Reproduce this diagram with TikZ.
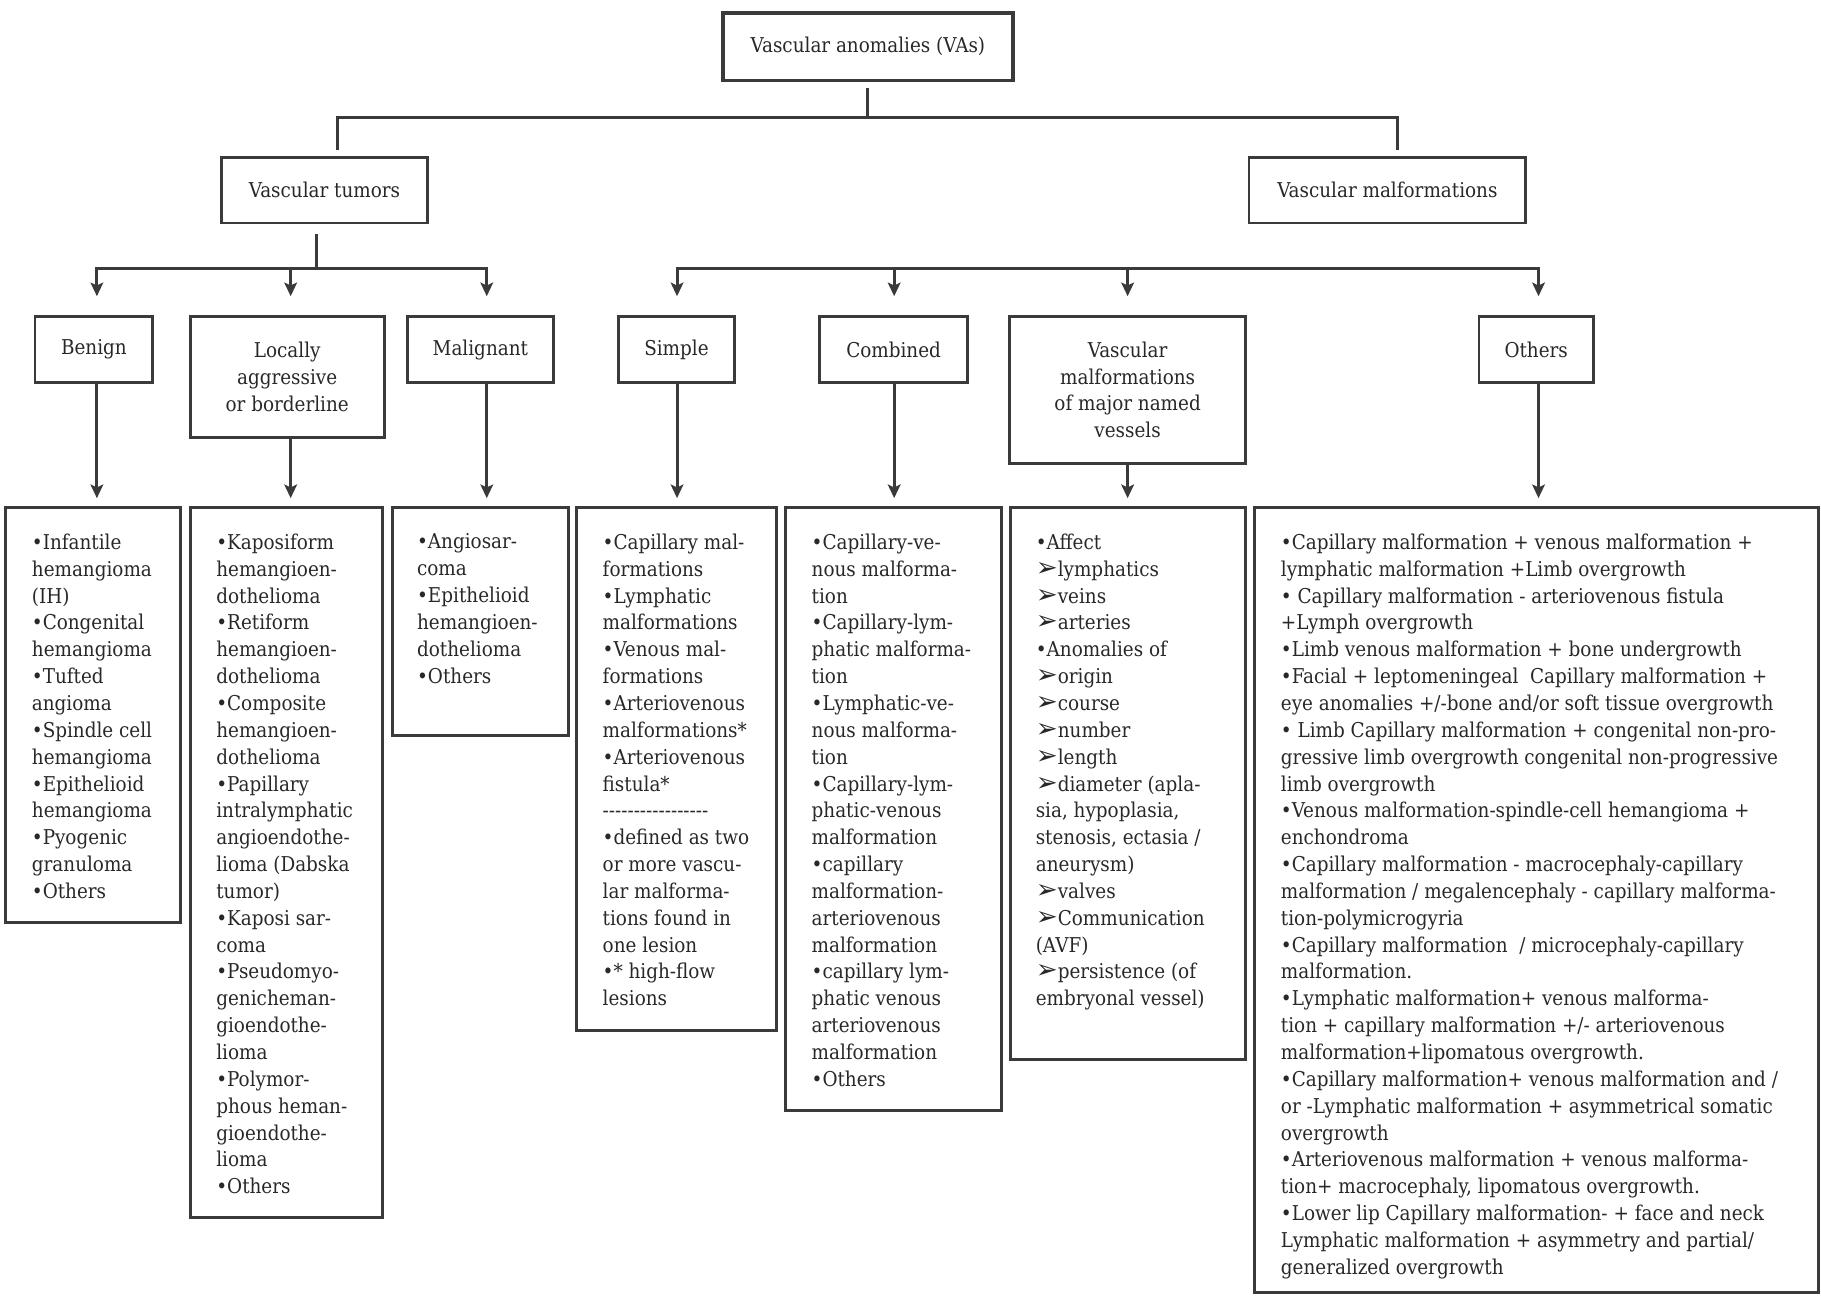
\documentclass[tikz,border=0pt]{standalone}
\usepackage{fontspec}
\setmainfont{DejaVu Serif Condensed}
\newfontfamily\arrfont{DejaVu Sans}
\usetikzlibrary{arrows.meta}
\definecolor{lc}{RGB}{58,58,58}
\definecolor{tc}{RGB}{40,40,40}
\newcommand{\ar}{{\arrfont\fontsize{13.5}{13.8}\selectfont ➢}}
\begin{document}
\begin{tikzpicture}[x=0.6pt,y=-0.6pt,
  every node/.style={text=tc,font=\fontsize{10.5}{13.8}\selectfont},
  sz/.style 2 args={minimum width={#1*0.6pt},minimum height={#2*0.6pt}},
  hbox/.style={draw=lc,line width=1.5pt,align=center,inner sep=0pt},
  lbox/.style={draw=lc,line width=1.5pt,inner sep=0pt},
  ltext/.style={anchor=north west,align=left,inner sep=0pt},
  conn/.style={draw=lc,line width=1.5pt},
  arr/.style={conn,-{Stealth[length=7pt,width=6.5pt,inset=1.5pt]}},
  toL2/.style={arr,shorten >=9.6pt},
  toL3/.style={arr,shorten >=4.2pt}]
\useasboundingbox[fill=white] (0,0) rectangle (1560,1111);

% level 0 and 1
\node[hbox,line width=2pt,sz={249}{58}] (va) at (743.5,40) {Vascular anomalies (VAs)};
\node[hbox,sz={176}{56}] (vt) at (278,163) {Vascular tumors};
\node[hbox,sz={237}{56}] (vm) at (1188.5,163) {Vascular malformations};

% level 2
\node[hbox,sz={101}{57}] (ben) at (80.5,299.5) {Benign};
\node[hbox,sz={166}{104}] (loc) at (246,323) {Locally\\aggressive\\or borderline};
\node[hbox,sz={125}{57}] (mal) at (411.5,299.5) {Malignant};
\node[hbox,sz={99}{57}] (sim) at (579.5,299.5) {Simple};
\node[hbox,sz={127}{57}] (com) at (765.5,299.5) {Combined};
\node[hbox,sz={202}{126}] (vmnv) at (966,334) {Vascular\\malformations\\of major named\\vessels};
\node[hbox,sz={98}{57}] (oth) at (1316,299.5) {Others};

% list boxes
\node[lbox,sz={150}{355}] (benL) at (80,612.5) {};
\node[lbox,sz={165}{608}] (locL) at (245.5,739) {};
\node[lbox,sz={151}{195}] (malL) at (411.5,532.5) {};
\node[lbox,sz={171}{448}] (simL) at (579.5,659) {};
\node[lbox,sz={185}{516}] (comL) at (765.5,693) {};
\node[lbox,sz={201}{473}] (vmnvL) at (966.5,671.5) {};
\node[lbox,sz={483}{672}] (othL) at (1316.5,771) {};

% list texts
\node[ltext] (benT) at (27,457) {•Infantile\\hemangioma\\(IH)\\•Congenital\\hemangioma\\•Tufted\\angioma\\•Spindle cell\\hemangioma\\•Epithelioid\\hemangioma\\•Pyogenic\\granuloma\\•Others};
\node[ltext] (locT) at (185,457) {•Kaposiform\\hemangioen-\\dothelioma\\•Retiform\\hemangioen-\\dothelioma\\•Composite\\hemangioen-\\dothelioma\\•Papillary\\intralymphatic\\angioendothe-\\lioma (Dabska\\tumor)\\•Kaposi sar-\\coma\\•Pseudomyo-\\genicheman-\\gioendothe-\\lioma\\•Polymor-\\phous heman-\\gioendothe-\\lioma\\•Others};
\node[ltext] (malT) at (357,457) {•Angiosar-\\coma\\•Epithelioid\\hemangioen-\\dothelioma\\•Others};
\node[ltext] (simT) at (516,457) {•Capillary mal-\\formations\\•Lymphatic\\malformations\\•Venous mal-\\formations\\•Arteriovenous\\malformations*\\•Arteriovenous\\fistula*\\-{}-{}-{}-{}-{}-{}-{}-{}-{}-{}-{}-{}-{}-{}-{}-{}-\\•defined as two\\or more vascu-\\lar malforma-\\tions found in\\one lesion\\•* high-flow\\lesions};
\node[ltext] (comT) at (695,457) {•Capillary-ve-\\nous malforma-\\tion\\•Capillary-lym-\\phatic malforma-\\tion\\•Lymphatic-ve-\\nous malforma-\\tion\\•Capillary-lym-\\phatic-venous\\malformation\\•capillary\\malformation-\\arteriovenous\\malformation\\•capillary lym-\\phatic venous\\arteriovenous\\malformation\\•Others};
\node[ltext] (vmnvT) at (887,457) {•Affect\\\ar lymphatics\\\ar veins\\\ar arteries\\•Anomalies of\\\ar origin\\\ar course\\\ar number\\\ar length\\\ar diameter (apla-\\sia, hypoplasia,\\stenosis, ectasia /\\aneurysm)\\\ar valves\\\ar Communication\\(AVF)\\\ar persistence (of\\embryonal vessel)};
\node[ltext] (othT) at (1097,457) {•Capillary malformation + venous malformation +\\lymphatic malformation +Limb overgrowth\\• Capillary malformation - arteriovenous fistula\\+Lymph overgrowth\\•Limb venous malformation + bone undergrowth\\•Facial + leptomeningeal\ \ Capillary malformation +\\eye anomalies +/-bone and/or soft tissue overgrowth\\• Limb Capillary malformation + congenital non-pro-\\gressive limb overgrowth congenital non-progressive\\limb overgrowth\\•Venous malformation-spindle-cell hemangioma +\\enchondroma\\•Capillary malformation - macrocephaly-capillary\\malformation / megalencephaly - capillary malforma-\\tion-polymicrogyria\\•Capillary malformation\ \ / microcephaly-capillary\\malformation.\\•Lymphatic malformation+ venous malforma-\\tion + capillary malformation +/- arteriovenous\\malformation+lipomatous overgrowth.\\•Capillary malformation+ venous malformation and /\\or -Lymphatic malformation + asymmetrical somatic\\overgrowth\\•Arteriovenous malformation + venous malforma-\\tion+ macrocephaly, lipomatous overgrowth.\\•Lower lip Capillary malformation- + face and neck\\Lymphatic malformation + asymmetry and partial/\\generalized overgrowth};

% connectors level 0 -> 1
\coordinate (j0) at (743,101);
\coordinate (jL) at (289,101);
\coordinate (jR) at (1197,101);
\draw[conn,shorten <=3pt] (va.south) -- (va.south |- j0);
\draw[conn,shorten <=3pt,shorten >=3pt] (jL |- vt.north) -- (jL) -- (jR) -- (jR |- vm.north);

% tumors bus
\coordinate (t0) at (271,230);
\coordinate (tA) at (83,230);
\coordinate (tB) at (249,230);
\coordinate (tC) at (417,230);
\draw[conn,shorten <=5pt] (t0 |- vt.south) -- (t0);
\draw[toL2] (tB) -- (tA) -- (tA |- ben.north);
\draw[toL2] (tB) -- (tC) -- (tC |- mal.north);
\draw[toL2] (tB) -- (tB |- loc.north);

% malformations bus
\coordinate (mA) at (580,230);
\coordinate (mB) at (766,230);
\coordinate (mC) at (966,230);
\coordinate (mD) at (1318,230);
\draw[toL2] (mB) -- (mA) -- (mA |- sim.north);
\draw[toL2] (mB) -- (mD) -- (mD |- oth.north);
\draw[toL2] (mB) -- (mB |- com.north);
\draw[toL2] (mC) -- (mC |- vmnv.north);

% level 2 -> lists
\draw[toL3] (tA |- ben.south) -- (tA |- benL.north);
\draw[toL3] (tB |- loc.south) -- (tB |- locL.north);
\draw[toL3] (tC |- mal.south) -- (tC |- malL.north);
\draw[toL3] (mA |- sim.south) -- (mA |- simL.north);
\draw[toL3] (mB |- com.south) -- (mB |- comL.north);
\draw[toL3] (mC |- vmnv.south) -- (mC |- vmnvL.north);
\draw[toL3] (mD |- oth.south) -- (mD |- othL.north);
\end{tikzpicture}
\end{document}
